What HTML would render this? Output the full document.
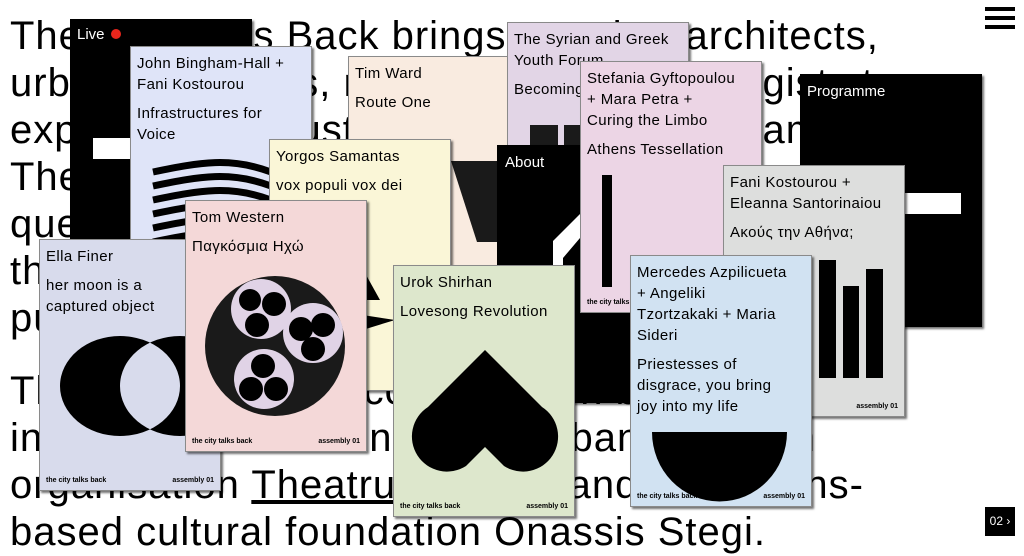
<!DOCTYPE html>
<html><head><meta charset="utf-8"><style>
*{margin:0;padding:0;box-sizing:border-box}
body{width:1024px;height:544px;overflow:hidden;background:#fff;position:relative;font-family:"Liberation Sans","DejaVu Sans",sans-serif;color:#000}
.l{position:absolute;left:10px;font-size:40px;line-height:47px;white-space:nowrap;letter-spacing:1px}
.c{position:absolute;width:182px;height:252px;border:1px solid #8a8a8a;box-shadow:2px 2px 2px rgba(0,0,0,.55);overflow:hidden}
.c .t{position:absolute;left:6px;top:6px;right:2px;font-size:15px;line-height:21px;letter-spacing:0.4px}
.c .t p{margin-bottom:8px}
.c .f{position:absolute;bottom:6px;left:6px;right:6px;font-size:7px;font-weight:bold;display:flex;justify-content:space-between}
.c svg{position:absolute;left:0;top:0}
.b{background:#000;color:#fff}
</style></head><body>
<div class="l" style="top:13px">The City Talks Back brings together architects,</div>
<div class="l" style="top:60px">urbanists, artists, musicians and ethnologists to</div>
<div class="l" style="top:107px">explore the acoustic city through a programme</div>
<div class="l" style="top:154px">The assembly invites participants to ask:</div>
<div class="l" style="top:201px">questions of voice and the acoustic life of</div>
<div class="l" style="top:248px">the city, its spaces and its people, and its</div>
<div class="l" style="top:295px">public space.</div>
<div class="l" style="top:368px">The Assembly is a collaboration between:</div>
<div class="l" style="top:415px">international London-based urban research</div>
<div class="l" style="top:462px">organisation <u>Theatrum Mundi</u> and the Athens-</div>
<div class="l" style="top:509px">based cultural foundation Onassis Stegi.</div>

<div class="c b" style="left:70px;top:19px;height:260px;border-color:#000">
<div style="position:absolute;left:6px;top:6px;font-size:15px">Live <span style="display:inline-block;width:10px;height:10px;border-radius:50%;background:#e8261c;margin-left:2px"></span></div>
<div style="position:absolute;left:22px;top:118px;width:60px;height:21px;background:#fff"></div>
</div>
<div class="c" style="left:130px;top:46px;background:#dfe4f8">
<div class="t"><p>John Bingham-Hall +<br>Fani Kostourou</p><p>Infrastructures for<br>Voice</p></div>
<svg width="182" height="252"><g fill="none" stroke="#000" stroke-width="7">
<path d="M22 125 C70 115 100 110 140 125 S170 125 182 120"/>
<path d="M22 139 C70 129 100 124 140 139 S170 139 182 134"/>
<path d="M22 153 C70 143 100 138 140 153 S170 153 182 148"/>
<path d="M22 167 C70 157 100 152 140 167 S170 167 182 162"/>
<path d="M22 181 C70 171 100 166 140 181 S170 181 182 176"/>
<path d="M22 195 C70 185 100 180 140 195 S170 195 182 190"/></g></svg>
</div>
<div class="c" style="left:348px;top:56px;background:#f9ebe0">
<div class="t"><p>Tim Ward</p><p>Route One</p></div>
<svg width="182" height="252"><path d="M102 104 L182 104 L182 185 L128 185 Z" fill="#1a1a1a"/></svg>
</div>
<div class="c" style="left:507px;top:22px;background:#e2d5e6">
<div class="t"><p>The Syrian and Greek<br>Youth Forum</p><p>Becoming</p></div>
<svg width="182" height="252"><rect x="22" y="102" width="28" height="40" fill="#1a1a1a"/><rect x="56" y="102" width="20" height="40" fill="#1a1a1a"/></svg>
</div>
<div class="c" style="left:269px;top:139px;background:#faf6d7">
<div class="t"><p>Yorgos Samantas</p><p>vox populi vox dei</p></div>
<svg width="182" height="252"><path d="M60 70 L110 160 L60 160 Z" fill="#000"/><path d="M60 170 L125 180 L60 200 Z" fill="#000"/></svg>
</div>
<div class="c b" style="left:497px;top:145px;width:150px;height:258px;border-color:#000">
<div style="position:absolute;left:7px;top:8px;font-size:15px">About</div>
<svg width="150" height="258"><path d="M55 95 L82 68 L82 92 L65 112 L65 130 L55 130 Z" fill="#fff"/></svg>
</div>
<div class="c" style="left:580px;top:61px;background:#ecd5e5">
<div class="t"><p>Stefania Gyftopoulou<br>+ Mara Petra +<br>Curing the Limbo</p><p>Athens Tessellation</p></div>
<svg width="182" height="252"><rect x="21" y="113" width="10" height="112" fill="#000"/></svg>
<div class="f"><span>the city talks back</span><span>assembly 01</span></div>
</div>
<div class="c b" style="left:800px;top:74px;height:253px;border-color:#000">
<div style="position:absolute;left:6px;top:8px;font-size:15px">Programme</div>
<div style="position:absolute;left:100px;top:118px;width:60px;height:21px;background:#fff"></div>
</div>
<div class="c" style="left:723px;top:165px;background:#dddedd">
<div class="t"><p>Fani Kostourou +<br>Eleanna Santorinaiou</p><p>Ακούς την Αθήνα;</p></div>
<svg width="182" height="252"><rect x="95" y="94" width="17" height="118" fill="#000"/><rect x="119" y="120" width="16" height="92" fill="#000"/><rect x="142" y="103" width="17" height="109" fill="#000"/></svg>
<div class="f"><span></span><span>assembly 01</span></div>
</div>
<div class="c" style="left:39px;top:239px;background:#d8dbec">
<div class="t"><p>Ella Finer</p><p>her moon is a<br>captured object</p></div>
<svg width="182" height="252"><path fill-rule="evenodd" fill="#000" d="M140 146 m-60 0 a60 50 0 1 0 120 0 a60 50 0 1 0 -120 0 Z M80 146 m-60 0 a60 50 0 1 0 120 0 a60 50 0 1 0 -120 0 Z"/></svg>
<div class="f"><span>the city talks back</span><span>assembly 01</span></div>
</div>
<div class="c" style="left:185px;top:200px;background:#f4d8d8">
<div class="t"><p>Tom Western</p><p>Παγκόσμια Ηχώ</p></div>
<svg width="182" height="252"><circle cx="89" cy="145" r="70" fill="#1a1a1a"/>
<g fill="#e0d3e6"><circle cx="75" cy="108" r="30"/><circle cx="127" cy="132" r="30"/><circle cx="78" cy="178" r="30"/></g>
<g fill="#000"><circle cx="64" cy="99" r="11"/><circle cx="88" cy="103" r="12"/><circle cx="71" cy="124" r="12"/>
<circle cx="115" cy="128" r="12"/><circle cx="137" cy="124" r="12"/><circle cx="127" cy="148" r="12"/>
<circle cx="77" cy="165" r="12"/><circle cx="65" cy="188" r="12"/><circle cx="90" cy="188" r="12"/></g></svg>
<div class="f"><span>the city talks back</span><span>assembly 01</span></div>
</div>
<div class="c" style="left:393px;top:265px;background:#dde7cc">
<div class="t"><p>Urok Shirhan</p><p>Lovesong Revolution</p></div>
<svg width="182" height="252"><path d="M91 84 L148 141 A28 28 0 0 1 110 200 L91 181 L72 200 A28 28 0 0 1 34 141 Z" fill="#000"/></svg>
<div class="f"><span>the city talks back</span><span>assembly 01</span></div>
</div>
<div class="c" style="left:630px;top:255px;background:#d1e2f2">
<div class="t"><p>Mercedes Azpilicueta<br>+ Angeliki<br>Tzortzakaki + Maria<br>Sideri</p><p>Priestesses of<br>disgrace, you bring<br>joy into my life</p></div>
<svg width="182" height="252"><path d="M21 176 L156 176 A67 69 0 0 1 21 176 Z" fill="#000"/></svg>
<div class="f"><span>the city talks back</span><span>assembly 01</span></div>
</div>

<div style="position:absolute;left:985px;top:7px;width:30px;height:4px;background:#000"></div>
<div style="position:absolute;left:985px;top:16px;width:30px;height:4px;background:#000"></div>
<div style="position:absolute;left:985px;top:25px;width:30px;height:4px;background:#000"></div>
<div style="position:absolute;left:985px;top:507px;width:30px;height:29px;background:#000;color:#fff;font-size:12px;line-height:29px;text-align:center">02 ›</div>
</body></html>
